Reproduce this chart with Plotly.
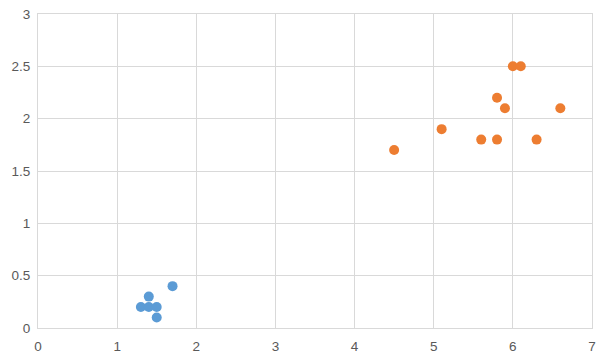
import plotly.graph_objects as go

blue_x = [1.3, 1.4, 1.5, 1.4, 1.5, 1.7]
blue_y = [0.2, 0.2, 0.2, 0.3, 0.1, 0.4]
orange_x = [4.5, 5.1, 5.6, 5.8, 6.3, 5.8, 5.9, 6.0, 6.1, 6.6]
orange_y = [1.7, 1.9, 1.8, 1.8, 1.8, 2.2, 2.1, 2.5, 2.5, 2.1]
x_ticks = [0, 1, 2, 3, 4, 5, 6, 7]
y_ticks = [0, 0.5, 1, 1.5, 2, 2.5, 3]

fig = go.Figure()
fig.add_trace(go.Scatter(x=blue_x, y=blue_y, mode="markers",
                         marker=dict(color="#5B9BD5", size=10), showlegend=False,
                         cliponaxis=False))
fig.add_trace(go.Scatter(x=orange_x, y=orange_y, mode="markers",
                         marker=dict(color="#ED7D31", size=10), showlegend=False,
                         cliponaxis=False))

axis_common = dict(showgrid=True, gridcolor="#D9D9D9", gridwidth=1,
                   zeroline=False, showline=True, linecolor="#D9D9D9", linewidth=1,
                   mirror=True, ticks="", automargin=False,
                   tickfont=dict(family="Liberation Sans, Arial", size=13.5, color="#595959"))
fig.update_xaxes(range=[0, 7], tickvals=x_ticks, ticktext=[str(v) for v in x_ticks],
                 ticklabelstandoff=6, **axis_common)
fig.update_yaxes(range=[0, 3], tickvals=y_ticks, ticktext=[str(v) for v in y_ticks],
                 ticklabelstandoff=4, **axis_common)

fig.update_layout(width=606, height=362, margin=dict(l=38, r=14, t=14, b=34, autoexpand=False),
                  plot_bgcolor="white", paper_bgcolor="white")
fig.write_html("out.html", config={"displayModeBar": False},
               post_script="document.body.style.margin='0';document.body.style.overflow='hidden';")
